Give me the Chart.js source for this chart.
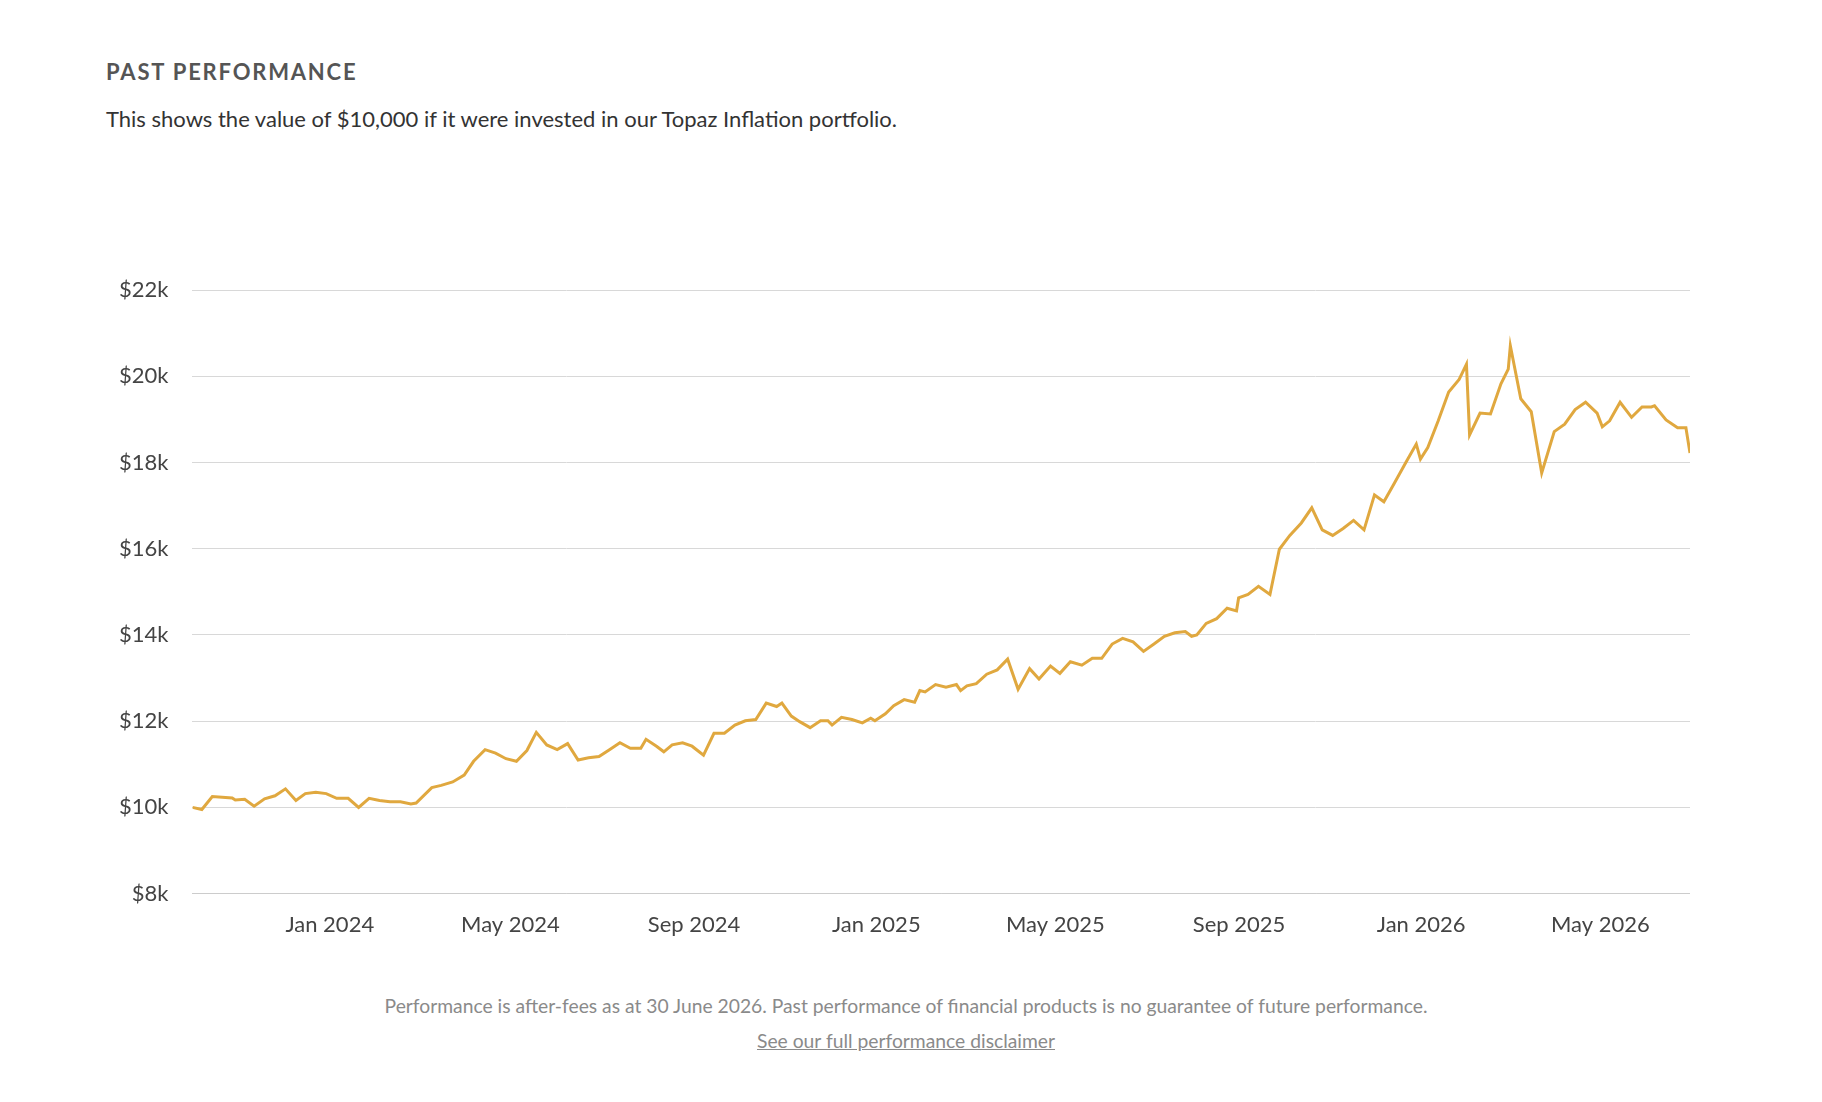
<!DOCTYPE html>
<html>
<head>
<meta charset="utf-8">
<script src="https://cdn.jsdelivr.net/npm/chart.js@4"></script>
<style>
  body { margin: 0; background: #fff; font-family: Lato, "Open Sans", sans-serif; }
  .title { position: absolute; left: 106px; top: 58px; font-size: 22px; font-weight: 700; letter-spacing: 1.8px; color: #555; margin: 0; }
  .sub { position: absolute; left: 106px; top: 105px; font-size: 22px; color: #333; margin: 0; }
  .wrap { position: absolute; left: 95px; top: 253px; width: 1595px; height: 695px; }
  .foot { position: absolute; left: 0; width: 1812px; text-align: center; font-size: 19.3px; color: #8a8a8a; }
  .foot a { color: #8a8a8a; }
</style>
</head>
<body>
<h2 class="title">PAST PERFORMANCE</h2>
<p class="sub">This shows the value of $10,000 if it were invested in our Topaz Inflation portfolio.</p>
<div class="wrap"><canvas id="perfChart"></canvas></div>
<div class="foot" style="top:994px">Performance is after-fees as at 30 June 2026. Past performance of financial products is no guarantee of future performance.</div>
<div class="foot" style="top:1029px"><a href="#">See our full performance disclaimer</a></div>
<script>
document.addEventListener("DOMContentLoaded", function () {
  // weeks since 1 Oct 2023, value in $k
  const points = [
    [0,10.0],[0.9,9.95],[1.9,10.25],[3.8,10.22],[4.1,10.17],[5.0,10.19],[5.9,10.03],[6.9,10.2],
    [7.9,10.27],[8.9,10.43],[9.9,10.16],[10.8,10.32],[11.8,10.35],[12.8,10.32],[13.8,10.21],[14.9,10.21],
    [15.9,10.0],[16.9,10.21],[17.9,10.16],[18.9,10.13],[19.9,10.13],[20.9,10.08],[21.4,10.1],[22.9,10.46],
    [23.8,10.51],[24.9,10.59],[26.0,10.75],[26.9,11.07],[28.0,11.34],[29.0,11.26],[30.0,11.13],[31.0,11.07],
    [32.0,11.32],[32.9,11.74],[33.9,11.45],[34.9,11.34],[35.9,11.48],[36.9,11.1],[37.9,11.15],[38.9,11.18],
    [39.9,11.34],[40.9,11.5],[41.9,11.37],[42.9,11.37],[43.4,11.58],[44.4,11.42],[45.1,11.29],[45.9,11.45],
    [46.9,11.5],[47.8,11.42],[48.9,11.21],[49.9,11.72],[50.9,11.72],[51.9,11.91],[52.9,12.01],[53.9,12.04],
    [54.9,12.42],[55.9,12.34],[56.4,12.42],[57.3,12.12],[58.1,11.99],[59.1,11.85],[60.1,12.01],[60.8,12.01],
    [61.2,11.91],[62.1,12.09],[63.1,12.04],[64.1,11.96],[64.9,12.07],[65.3,12.01],[66.3,12.17],[67.1,12.36],
    [68.1,12.5],[69.1,12.44],[69.6,12.71],[70.1,12.68],[71.1,12.85],[72.1,12.79],[73.1,12.85],[73.5,12.71],
    [74.1,12.82],[75.0,12.87],[76.0,13.09],[77.0,13.19],[78.0,13.44],[79.0,12.74],[80.1,13.22],[81.0,12.98],
    [82.1,13.28],[83.0,13.11],[84.0,13.38],[85.1,13.3],[86.1,13.46],[87.0,13.46],[88.0,13.79],[89.0,13.92],
    [90.0,13.84],[91.0,13.62],[92.0,13.79],[93.0,13.97],[94.0,14.05],[95.0,14.08],[95.6,13.97],[96.1,14.0],
    [97.0,14.27],[98.0,14.38],[99.0,14.62],[99.9,14.56],[100.1,14.86],[101.0,14.94],[102.0,15.13],[103.1,14.94],
    [104.0,15.99],[105.0,16.31],[106.1,16.6],[107.1,16.95],[108.1,16.44],[109.1,16.31],[110.1,16.47],[111.1,16.66],
    [112.1,16.44],[113.1,17.25],[114.0,17.09],[115.0,17.52],[116.1,18.0],[117.1,18.43],[117.5,18.08],[118.2,18.35],
    [119.2,18.97],[120.2,19.64],[121.2,19.93],[121.9,20.28],[122.2,18.64],[123.2,19.15],[124.2,19.13],[125.2,19.83],
    [125.9,20.17],[126.1,20.71],[127.1,19.48],[128.1,19.18],[129.1,17.76],[130.3,18.72],[131.3,18.89],[132.3,19.23],
    [133.3,19.4],[134.4,19.15],[134.9,18.83],[135.6,18.97],[136.6,19.4],[137.7,19.05],[138.7,19.29],[139.6,19.29],
    [139.9,19.32],[141.0,18.99],[142.1,18.81],[142.9,18.81],[143.29,18.22]
  ];
  const monthTicks = {13.14:"Jan 2024",30.43:"May 2024",48.0:"Sep 2024",65.43:"Jan 2025",
    82.57:"May 2025",100.14:"Sep 2025",117.57:"Jan 2026",134.71:"May 2026"};

  new Chart(document.getElementById("perfChart"), {
    type: "line",
    data: {
      datasets: [{
        data: points.map((p) => ({ x: p[0], y: p[1] })),
        borderColor: "#E0A83F",
        borderWidth: 3,
        pointRadius: 0,
        tension: 0,
      }],
    },
    options: {
      responsive: true,
      maintainAspectRatio: false,
      animation: false,
      plugins: { legend: { display: false }, tooltip: { enabled: false } },
      scales: {
        x: {
          type: "linear", min: 0, max: 143.29,
          grid: { display: false },
          border: { color: "#ccc" },
          afterBuildTicks: (axis) => {
            axis.ticks = Object.keys(monthTicks).map((k) => ({ value: parseFloat(k) }));
          },
          ticks: {
            autoSkip: false, maxRotation: 0, padding: 10,
            color: "#444", font: { family: "Lato", size: 22 },
            callback: (v) => monthTicks[v],
          },
        },
        y: {
          min: 8, max: 22,
          grid: { color: "#d8d8d8", drawTicks: false },
          border: { display: false },
          ticks: {
            stepSize: 2, padding: 24,
            color: "#444", font: { family: "Lato", size: 22 },
            callback: (v) => "$" + v + "k",
          },
        },
      },
    },
  });
});
</script>
</body>
</html>
